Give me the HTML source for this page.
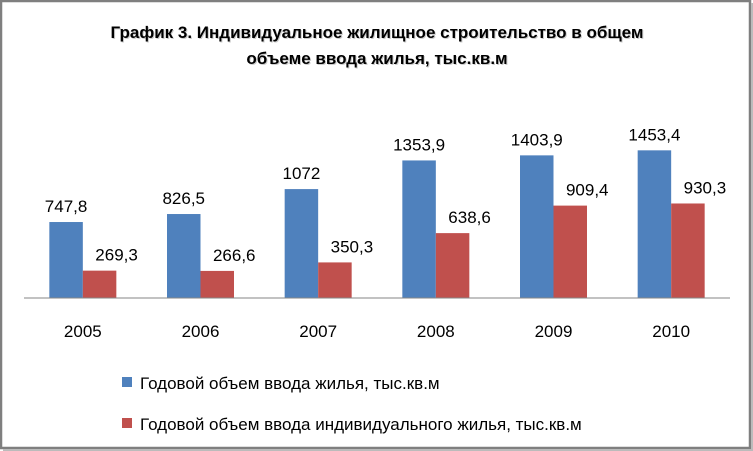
<!DOCTYPE html>
<html><head><meta charset="utf-8"><style>
body{margin:0;background:#fff;}
svg{display:block;font-family:"Liberation Sans","DejaVu Sans",sans-serif;}
</style></head><body>
<svg width="753" height="451" viewBox="0 0 753 451">
<rect x="1" y="1" width="749" height="447" fill="#fff" stroke="#7f7f7f" stroke-width="2.5"/>
<line x1="752" y1="3" x2="752" y2="451" stroke="#bbb" stroke-width="2"/>
<line x1="3" y1="450" x2="753" y2="450" stroke="#bbb" stroke-width="2"/>
<g font-weight="bold" font-size="17" text-anchor="middle" fill="#000">
<text x="377" y="38" fill="#ccc" dx="1" dy="1">График 3. Индивидуальное жилищное строительство в общем</text>
<text x="377" y="38">График 3. Индивидуальное жилищное строительство в общем</text>
<text x="377" y="64" fill="#ccc" dx="1" dy="1">объеме ввода жилья, тыс.кв.м</text>
<text x="377" y="64">объеме ввода жилья, тыс.кв.м</text>
</g>
<g id="plot"></g>
<line x1="24" y1="298" x2="730" y2="298" stroke="#868686" stroke-width="1"/>
<g font-size="17" fill="#000">
<g><rect x="122" y="377" width="10" height="10" fill="#4f81bd"/><text x="140" y="389">Годовой объем  ввода жилья, тыс.кв.м</text></g>
<g><rect x="122" y="418" width="10" height="10" fill="#c0504d"/><text x="140" y="430">Годовой объем  ввода индивидуального жилья, тыс.кв.м</text></g>
</g>
</svg>
<script>
const categories=["2005","2006","2007","2008","2009","2010"];
const totalValues=[747.8,826.5,1072,1353.9,1403.9,1453.4];
const individualValues=[269.3,266.6,350.3,638.6,909.4,930.3];
const labelsTotal=["747,8","826,5","1072","1353,9","1403,9","1453,4"];
const labelsIndividual=["269,3","266,6","350,3","638,6","909,4","930,3"];
const NS="http://www.w3.org/2000/svg";
const plot=document.getElementById('plot');
const x0=24,x1=730,baseY=298,scale=0.1016;
const band=(x1-x0)/categories.length;
const bw=33.5;
function y(v){return baseY-v*scale;}
function cx(i){return x0+band*(i+0.5);}
function mk(tag,attrs){const e=document.createElementNS(NS,tag);for(const k in attrs)e.setAttribute(k,attrs[k]);plot.appendChild(e);return e;}
categories.forEach((c,i)=>{
  const b=mk('rect',{x:cx(i)-bw,y:y(totalValues[i]),width:bw,height:totalValues[i]*scale,fill:'#4f81bd'});
  
  
  const r=mk('rect',{x:cx(i),y:y(individualValues[i]),width:bw,height:individualValues[i]*scale,fill:'#c0504d'});
  
  
  const t1=mk('text',{x:cx(i)-bw/2,y:y(totalValues[i])-10,'font-size':17,'text-anchor':'middle',fill:'#000'});
  t1.textContent=labelsTotal[i];
  
  
  const t2=mk('text',{x:cx(i)+bw/2+17,y:y(individualValues[i])-10,'font-size':17,'text-anchor':'middle',fill:'#000'});
  t2.textContent=labelsIndividual[i];
  
  
  const xl=mk('text',{x:cx(i),y:337,'font-size':17,'text-anchor':'middle',fill:'#000'});
  xl.textContent=c;
  
  
});
</script>
</body></html>
